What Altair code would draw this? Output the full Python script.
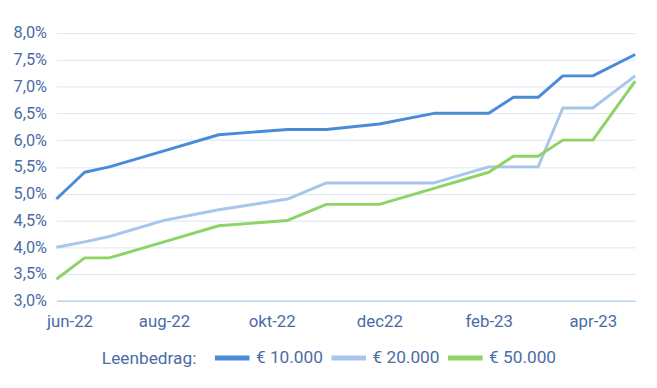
import altair as alt
import pandas as pd
from datetime import datetime, timezone

dates = ["2022-06-01", "2022-06-17", "2022-07-01", "2022-08-01", "2022-09-01",
         "2022-10-10", "2022-11-01", "2022-12-01", "2023-01-01", "2023-02-01",
         "2023-02-15", "2023-03-01", "2023-03-15", "2023-04-01", "2023-04-25"]
rate_10k = [4.9, 5.4, 5.5, 5.8, 6.1, 6.2, 6.2, 6.3, 6.5, 6.5, 6.8, 6.8, 7.2, 7.2, 7.6]
rate_20k = [4.0, 4.1, 4.2, 4.5, 4.7, 4.9, 5.2, 5.2, 5.2, 5.5, 5.5, 5.5, 6.6, 6.6, 7.2]
rate_50k = [3.4, 3.8, 3.8, 4.1, 4.4, 4.5, 4.8, 4.8, 5.1, 5.4, 5.7, 5.7, 6.0, 6.0, 7.1]
series = ["€ 10.000", "€ 20.000", "€ 50.000"]
colors = ["#4A8BD9", "#A8C6EB", "#8DD366"]

tick_dates = [(2022, 6), (2022, 8), (2022, 10), (2022, 12), (2023, 2), (2023, 4)]
tick_labels = ["jun-22", "aug-22", "okt-22", "dec22", "feb-23", "apr-23"]
y_ticks = [3.0, 3.5, 4.0, 4.5, 5.0, 5.5, 6.0, 6.5, 7.0, 7.5, 8.0]

rows = []
for name, vals in zip(series, [rate_10k, rate_20k, rate_50k]):
    for d, v in zip(dates, vals):
        rows.append({"datum": d, "rente": v, "bedrag": name})
df = pd.DataFrame(rows)

ts = [int(datetime(y, m, 1, tzinfo=timezone.utc).timestamp() * 1000) for y, m in tick_dates]
label_expr = "[" + ",".join(f"'{l}'" for l in tick_labels) + "][indexof([" + ",".join(str(t) for t in ts) + "], +datum.value)]"

text_color = "#4A6CA6"
font = "Roboto"

chart = alt.Chart(df).mark_line(strokeWidth=3, strokeJoin="round").encode(
    x=alt.X("datum:T",
            scale=alt.Scale(type="utc", domain=[alt.DateTime(year=2022, month=6, date=1, utc=True),
                                                 alt.DateTime(year=2023, month=4, date=25, utc=True)],
                            nice=False),
            axis=alt.Axis(values=[alt.DateTime(year=y, month=m, date=1, utc=True) for y, m in tick_dates],
                          labelExpr=label_expr, title=None, grid=False, ticks=False,
                          domain=True, domainColor="#A9C7EA", domainWidth=1,
                          labelFlush=True, labelFlushOffset=10, labelPadding=13,
                          labelFontSize=17)),
    y=alt.Y("rente:Q",
            scale=alt.Scale(domain=[3, 8], nice=False, zero=False),
            axis=alt.Axis(values=y_ticks, title=None, ticks=False, domain=False,
                          labelExpr="replace(format(datum.value, '.1f'), '.', ',') + '%'",
                          gridColor="#DCE6F3", gridWidth=1, labelPadding=10,
                          labelFontSize=16.5)),
    color=alt.Color("bedrag:N",
                    scale=alt.Scale(domain=series, range=colors),
                    legend=alt.Legend(title="Leenbedrag:", orient="none", direction="horizontal",
                                      titleOrient="left", titleBaseline="line-top", titleLineHeight=11,
                                      titleAnchor="middle",
                                      legendX=46, legendY=309,
                                      symbolType="stroke", symbolSize=1225, symbolStrokeWidth=5,
                                      labelOffset=4, columnPadding=-2, titlePadding=16,
                                      titleFontWeight="normal", titleFontSize=17.5, labelFontSize=17.5,
                                      titleColor=text_color, labelColor=text_color,
                                      titleFont=font, labelFont=font)),
).properties(
    width=586, height=271,
    autosize=alt.AutoSizeParams(type="none"),
    padding={"left": 49, "top": 23, "right": 14, "bottom": 86},
).configure_axis(
    labelFont=font, labelColor=text_color,
).configure_view(stroke=None)

chart.save("out.html", embed_options={"renderer": "svg", "actions": False})
